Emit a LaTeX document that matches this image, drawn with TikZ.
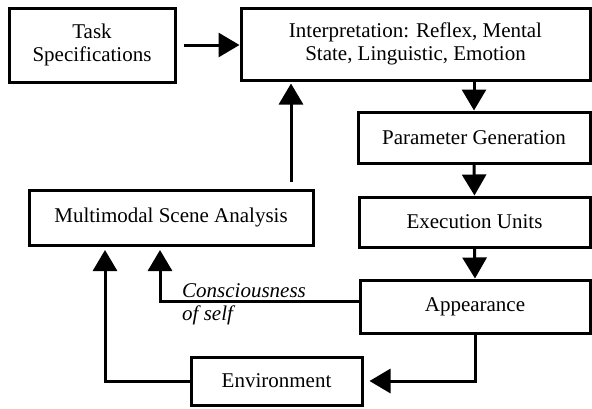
\documentclass[tikz,border=0pt]{standalone}
\usepackage{fontspec}
\setmainfont{Liberation Serif}
\usetikzlibrary{arrows.meta}
\tikzset{
  box/.style={draw, line width=3pt, align=center, inner sep=2pt},
  arr/.style={line width=3pt, -{Triangle[length=21pt,width=24pt]}},
  line/.style={line width=3pt}
}
\begin{document}
\begin{tikzpicture}[x=1pt,y=-1pt,font=\fontsize{21}{23.5}\selectfont]
\useasboundingbox (0,0) rectangle (592,408);

\node[box, minimum width=166pt, minimum height=74pt] (task) at (92,45) {Task\\Specifications};
\node[box, minimum width=349pt, minimum height=72pt] (interp) at (415.5,44) {Interpretation: Reflex, Mental\\State, Linguistic, Emotion};
\node[box, minimum width=232pt, minimum height=51pt] (param) at (474,137.5) {Parameter Generation};
\node[box, minimum width=231pt, minimum height=50pt] (exec) at (474.5,222) {Execution Units};
\node[box, minimum width=230pt, minimum height=53pt] (appear) at (475,306.5) {Appearance};
\node[box, minimum width=171pt, minimum height=48pt] (env) at (276.5,381) {Environment};
\node[box, minimum width=284pt, minimum height=55pt] (scene) at (171,217.5) {Multimodal Scene Analysis};

\coordinate (envin) at (105,246);
\coordinate (selfin) at (160,246);
\coordinate (scenetop) at (291,190);

% main chain
\draw[arr, shorten <=7pt] (task.east) -- (interp.west |- task.east);
\draw[arr] (param.north |- interp.south) -- (param.north);
\draw[arr] (param.south) -- (exec.north);
\draw[arr] (exec.south) -- (appear.north);
\draw[arr, shorten >=6pt] (appear.south) |- (env.east);

% feedback
\draw[arr, shorten >=4pt] (env.west) -| (envin);
\draw[arr, shorten >=4pt] ([yshift=5pt]appear.west) -| (selfin);
\draw[arr, shorten <=8pt, shorten >=2pt] (scenetop) -- (scenetop |- interp.south);

\node[anchor=north west, align=left, inner sep=0pt, font=\fontsize{21}{23.5}\selectfont\itshape] (selflbl) at (182,283) {Consciousness\\of self};

\end{tikzpicture}
\end{document}
